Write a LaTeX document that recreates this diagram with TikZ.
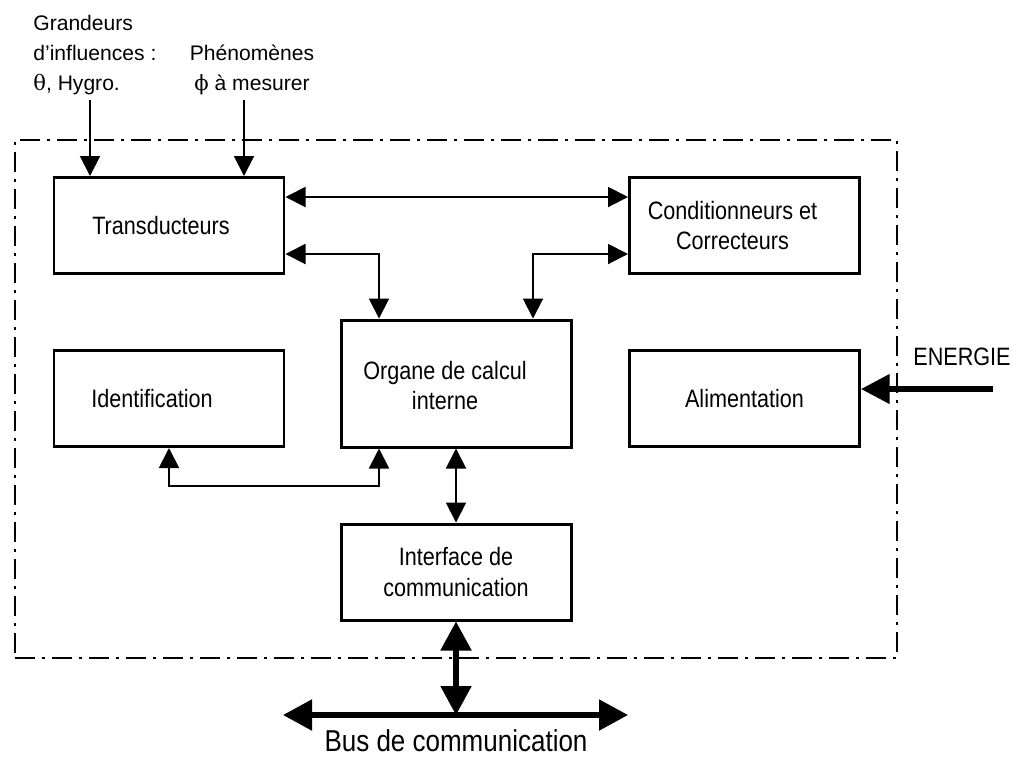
\documentclass[tikz,border=0pt]{standalone}
\usepackage{fontspec}
\setmainfont{Liberation Sans}
\newfontfamily\narrowfont{Liberation Sans}[FakeStretch=0.86]
\newfontfamily\greekfont{DejaVu Serif}
\usetikzlibrary{arrows.meta, positioning}

\begin{document}
\begin{tikzpicture}[
  block/.style={rectangle, draw, line width=1.7pt, minimum width=4.6cm, minimum height=1.92cm, align=center, font=\narrowfont\fontsize{14.3}{17.5}\selectfont},
  boxtext/.style={inner sep=0pt, align=center, font=\narrowfont\fontsize{14.3}{17.5}\selectfont},
  intext/.style={inner sep=0pt, font=\fontsize{12}{17}\selectfont},
  link/.style={{Triangle[length=0.4cm,width=0.4cm]}-{Triangle[length=0.4cm,width=0.4cm]}, line width=1.1pt},
  inlink/.style={-{Triangle[length=0.4cm,width=0.4cm]}, line width=1.1pt},
  powerlink/.style={-{Triangle[length=0.57cm,width=0.57cm]}, line width=3pt},
  buslink/.style={{Triangle[length=0.58cm,width=0.6cm]}-{Triangle[length=0.58cm,width=0.6cm]}, line width=3pt},
  sysframe/.style={rectangle, draw, line width=1.6pt, dash pattern=on 0.4cm off 0.14cm on 0.06cm off 0.14cm, minimum width=17.64cm, minimum height=10.36cm, inner sep=0pt}
]
  \useasboundingbox (0,0) rectangle (20.42,-15.14);

  % Sensor boundary
  \node[sysframe] (sys) at (9.12,-7.98) {};

  % Blocks
  \node[block, label={[boxtext, xshift=-0.16cm]center:Transducteurs}] (tra) at (3.38,-4.51) {};
  \node[block, label={[boxtext, xshift=-0.24cm]center:Conditionneurs et\\Correcteurs}] (cond) at (14.89,-4.51) {};
  \node[block, label={[boxtext, xshift=-0.34cm]center:Identification}] (ident) at (3.38,-7.97) {};
  \node[block, minimum height=2.54cm, label={[boxtext, xshift=-0.22cm, yshift=-0.04cm]center:Organe de calcul\\interne}] (org) at (9.12,-7.67) {};
  \node[block] (alim)  at (14.89,-7.97) {Alimentation};
  \node[block] (int)   at (9.12,-11.44) {Interface de\\communication};

  % Inputs
  \node[intext, align=left, anchor=south west] (infl) at (0.66,-1.9) {Grandeurs\\d'influences :\\{\greekfont θ}, Hygro.};
  \node[intext, align=center, anchor=south] (phen) at (5.04,-1.9) {Phénomènes\\{\greekfont ϕ} à mesurer};
  \coordinate (infl-in) at (1.8,-2.0);
  \coordinate (phen-in) at (4.88,-2.0);
  \draw[inlink] (infl-in) -- (infl-in |- tra.north);
  \draw[inlink] (phen-in) -- (phen-in |- tra.north);

  % Internal links
  \draw[link] ([yshift=0.57cm]tra.east) -- ([yshift=0.57cm]cond.west);
  \draw[link] ([yshift=-0.57cm]tra.east) -| ([xshift=-1.54cm]org.north);
  \draw[link] ([yshift=-0.57cm]cond.west) -| ([xshift=1.54cm]org.north);
  \draw[link] (ident.south) -- ++(0,-0.76) -| ([xshift=-1.54cm]org.south);
  \draw[link] (org.south) -- (int.north);

  % Energy
  \node[boxtext] (energ) at (19.24,-7.14) {ENERGIE};
  \coordinate (en) at (19.86,-7.78);
  \draw[powerlink] (en) -- (en -| alim.east);

  % Bus
  \coordinate (busl) at (5.66,-14.3);
  \coordinate (busr) at (12.56,-14.3);
  \draw[buslink] (busl) -- (busr);
  \draw[buslink] (int.south) -- (int.south |- busl);
  \node[inner sep=0pt, font=\narrowfont\fontsize{17.2}{20}\selectfont] (bus) at (9.12,-14.82) {Bus de communication};
\end{tikzpicture}
\end{document}
